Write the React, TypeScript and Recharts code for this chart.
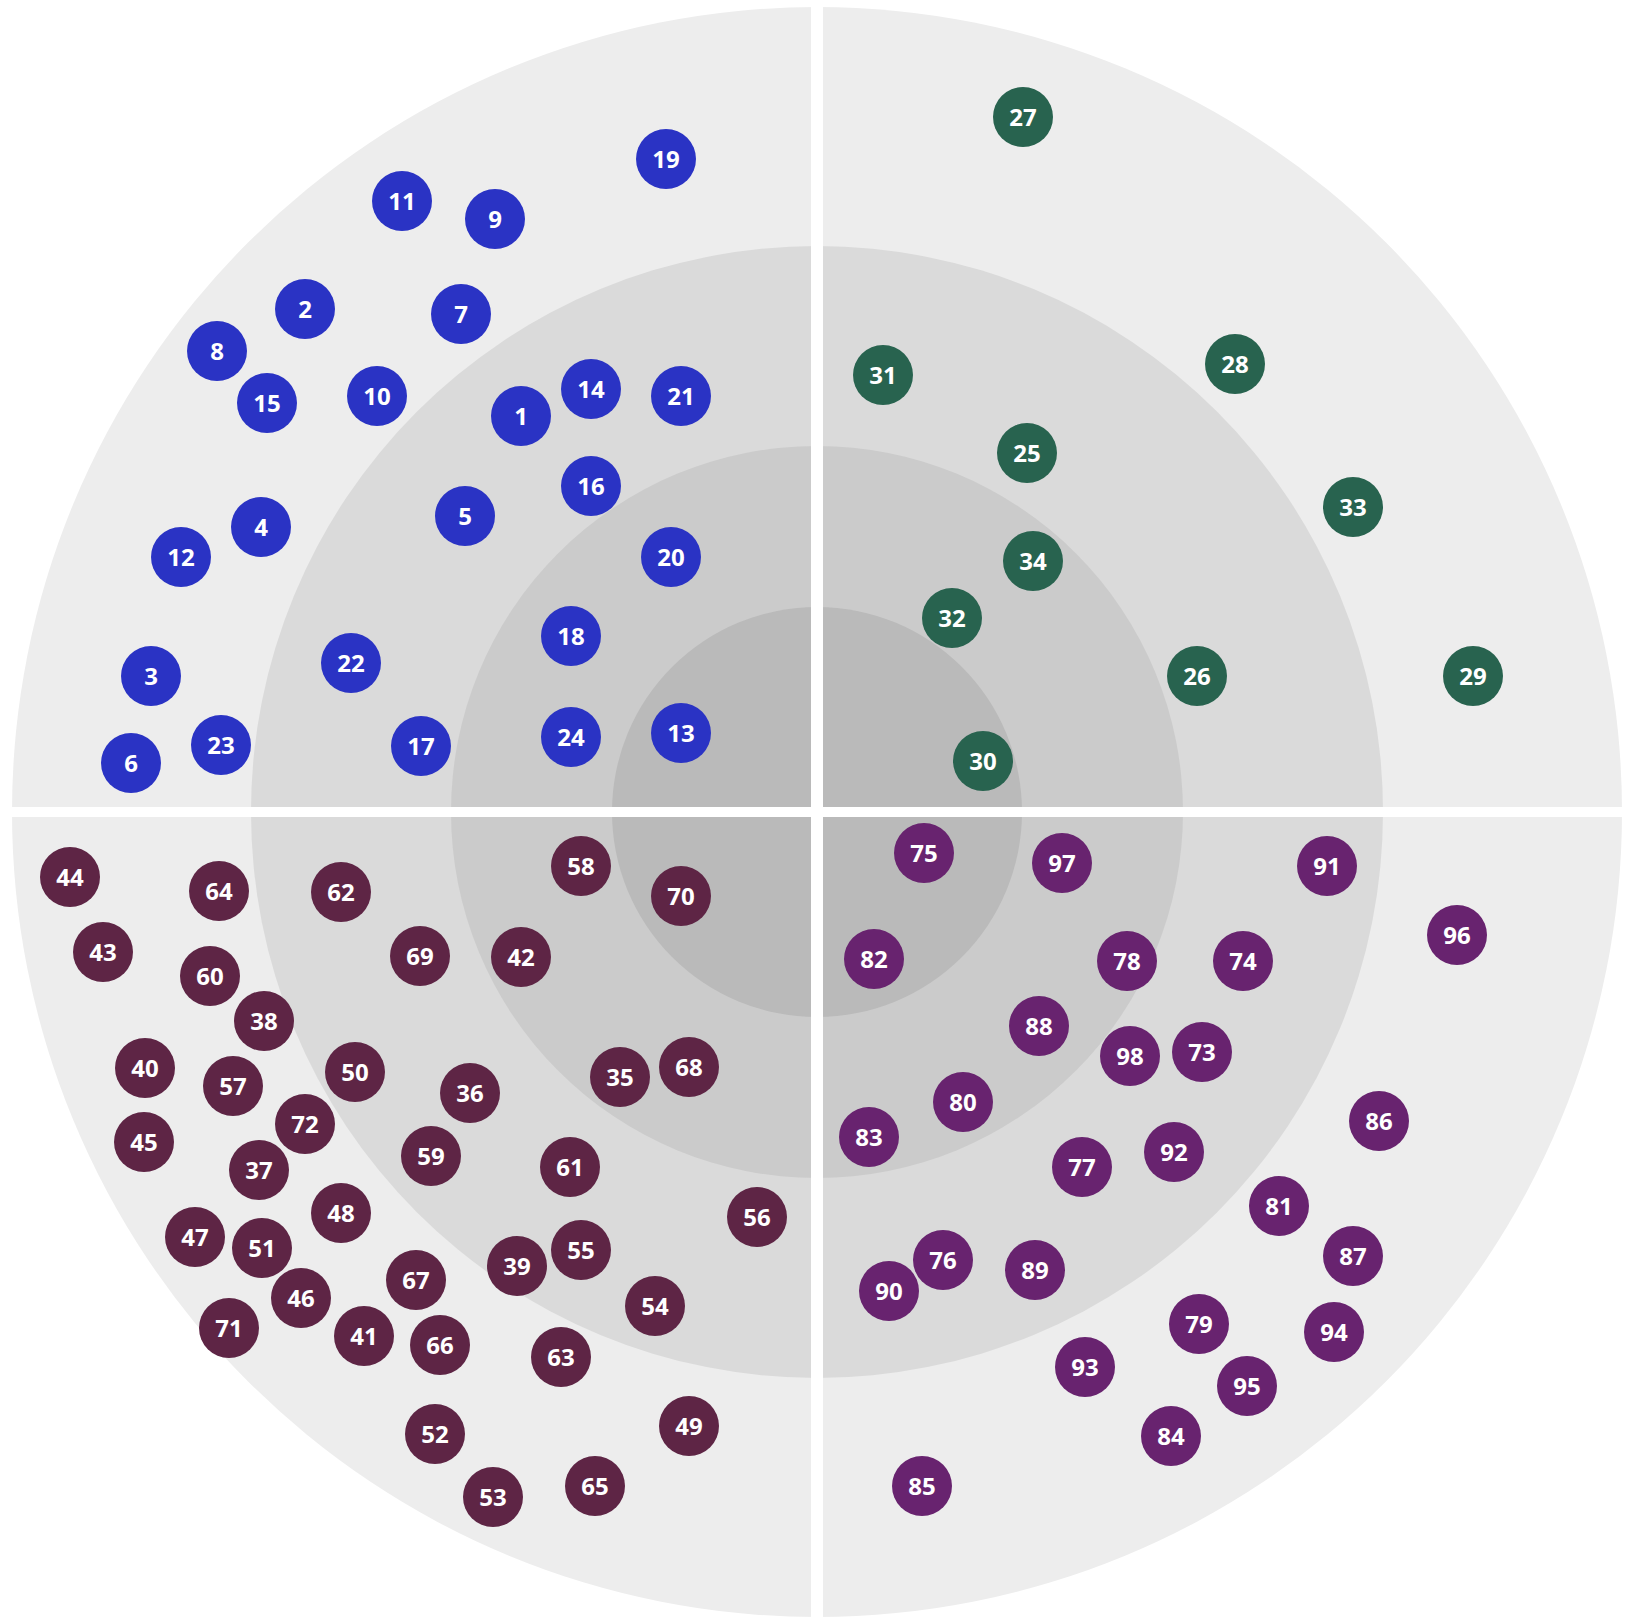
import { Scatter, ScatterChart, XAxis, YAxis } from 'recharts';

type Blip = { id: number; x: number; y: number };

// Blip positions are offsets from the radar centre in px (x to the right, y upwards).
const topLeftBlips: Blip[] = [
  { id: 1, x: -296, y: 396 },
  { id: 2, x: -512, y: 503 },
  { id: 3, x: -666, y: 136 },
  { id: 4, x: -556, y: 285 },
  { id: 5, x: -352, y: 296 },
  { id: 6, x: -686, y: 49 },
  { id: 7, x: -356, y: 498 },
  { id: 8, x: -600, y: 461 },
  { id: 9, x: -322, y: 593 },
  { id: 10, x: -440, y: 416 },
  { id: 11, x: -415, y: 611 },
  { id: 12, x: -636, y: 255 },
  { id: 13, x: -136, y: 79 },
  { id: 14, x: -226, y: 423 },
  { id: 15, x: -550, y: 409 },
  { id: 16, x: -226, y: 326 },
  { id: 17, x: -396, y: 66 },
  { id: 18, x: -246, y: 176 },
  { id: 19, x: -151, y: 653 },
  { id: 20, x: -146, y: 255 },
  { id: 21, x: -136, y: 416 },
  { id: 22, x: -466, y: 149 },
  { id: 23, x: -596, y: 67 },
  { id: 24, x: -246, y: 75 },
];

const topRightBlips: Blip[] = [
  { id: 25, x: 210, y: 359 },
  { id: 26, x: 380, y: 136 },
  { id: 27, x: 206, y: 695 },
  { id: 28, x: 418, y: 448 },
  { id: 29, x: 656, y: 136 },
  { id: 30, x: 166, y: 51 },
  { id: 31, x: 66, y: 437 },
  { id: 32, x: 135, y: 194 },
  { id: 33, x: 536, y: 305 },
  { id: 34, x: 216, y: 251 },
];

const bottomLeftBlips: Blip[] = [
  { id: 35, x: -197, y: -265 },
  { id: 36, x: -347, y: -281 },
  { id: 37, x: -558, y: -358 },
  { id: 38, x: -553, y: -209 },
  { id: 39, x: -300, y: -454 },
  { id: 40, x: -672, y: -256 },
  { id: 41, x: -453, y: -524 },
  { id: 42, x: -296, y: -145 },
  { id: 43, x: -714, y: -140 },
  { id: 44, x: -747, y: -65 },
  { id: 45, x: -673, y: -330 },
  { id: 46, x: -516, y: -486 },
  { id: 47, x: -622, y: -425 },
  { id: 48, x: -476, y: -401 },
  { id: 49, x: -128, y: -614 },
  { id: 50, x: -462, y: -260 },
  { id: 51, x: -555, y: -436 },
  { id: 52, x: -382, y: -622 },
  { id: 53, x: -324, y: -685 },
  { id: 54, x: -162, y: -494 },
  { id: 55, x: -236, y: -438 },
  { id: 56, x: -60, y: -405 },
  { id: 57, x: -584, y: -274 },
  { id: 58, x: -236, y: -54 },
  { id: 59, x: -386, y: -344 },
  { id: 60, x: -607, y: -164 },
  { id: 61, x: -247, y: -355 },
  { id: 62, x: -476, y: -80 },
  { id: 63, x: -256, y: -545 },
  { id: 64, x: -598, y: -79 },
  { id: 65, x: -222, y: -674 },
  { id: 66, x: -377, y: -533 },
  { id: 67, x: -401, y: -468 },
  { id: 68, x: -128, y: -255 },
  { id: 69, x: -397, y: -144 },
  { id: 70, x: -136, y: -84 },
  { id: 71, x: -588, y: -516 },
  { id: 72, x: -512, y: -312 },
];

const bottomRightBlips: Blip[] = [
  { id: 73, x: 385, y: -240 },
  { id: 74, x: 426, y: -149 },
  { id: 75, x: 107, y: -41 },
  { id: 76, x: 126, y: -448 },
  { id: 77, x: 265, y: -355 },
  { id: 78, x: 310, y: -149 },
  { id: 79, x: 382, y: -512 },
  { id: 80, x: 146, y: -290 },
  { id: 81, x: 462, y: -394 },
  { id: 82, x: 57, y: -147 },
  { id: 83, x: 52, y: -325 },
  { id: 84, x: 354, y: -624 },
  { id: 85, x: 105, y: -674 },
  { id: 86, x: 562, y: -309 },
  { id: 87, x: 536, y: -444 },
  { id: 88, x: 222, y: -214 },
  { id: 89, x: 218, y: -458 },
  { id: 90, x: 72, y: -479 },
  { id: 91, x: 510, y: -54 },
  { id: 92, x: 357, y: -340 },
  { id: 93, x: 268, y: -555 },
  { id: 94, x: 517, y: -520 },
  { id: 95, x: 430, y: -574 },
  { id: 96, x: 640, y: -123 },
  { id: 97, x: 245, y: -51 },
  { id: 98, x: 313, y: -244 },
];

const centre = [{ x: 0, y: 0 }];

const W = 1632;
const H = 1620;
const CX = 817;
const CY = 812;

// outer -> inner
const ringRadii = [805, 566, 366, 205];
const ringFills = ['#ededed', '#dadada', '#cbcbcb', '#bababa'];

function RadarBackground(props: any) {
  const { cx, cy } = props;
  return (
    <g>
      {ringRadii.map((r, i) => (
        <circle key={r} cx={cx} cy={cy} r={r} fill={ringFills[i]} />
      ))}
      <rect x={cx - 6} y={cy - 820} width={12} height={1640} fill="#ffffff" />
      <rect x={cx - 820} y={cy - 5} width={1640} height={10} fill="#ffffff" />
    </g>
  );
}

const blipShape = (fill: string) => (props: any) => (
  <g>
    <circle cx={props.cx} cy={props.cy} r={30} fill={fill} />
    <text
      x={props.cx}
      y={props.cy}
      dy="0.36em"
      textAnchor="middle"
      fill="#ffffff"
      fontSize={24}
      fontWeight={700}
      fontFamily="'Open Sans', sans-serif"
    >
      {props.payload.id}
    </text>
  </g>
);

export default function App() {
  return (
    <div style={{ position: 'absolute', left: 0, top: 0 }}>
      <ScatterChart width={W} height={H} margin={{ top: 0, right: 0, bottom: 0, left: 0 }}>
        <XAxis type="number" dataKey="x" domain={[-CX, W - CX]} hide allowDataOverflow />
        <YAxis type="number" dataKey="y" domain={[CY - H, CY]} hide allowDataOverflow />
        <Scatter data={centre} shape={RadarBackground} isAnimationActive={false} />
        <Scatter data={topLeftBlips} shape={blipShape('#2a33c4')} isAnimationActive={false} />
        <Scatter data={topRightBlips} shape={blipShape('#28634f')} isAnimationActive={false} />
        <Scatter data={bottomLeftBlips} shape={blipShape('#5e2545')} isAnimationActive={false} />
        <Scatter data={bottomRightBlips} shape={blipShape('#68236f')} isAnimationActive={false} />
      </ScatterChart>
    </div>
  );
}
